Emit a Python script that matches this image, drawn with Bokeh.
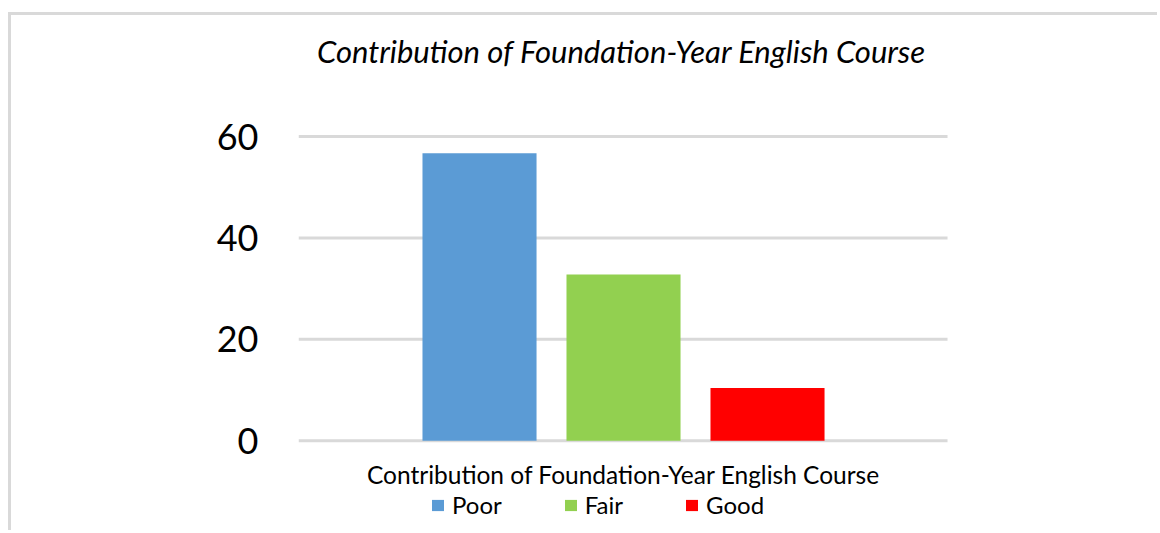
from bokeh.plotting import figure
from bokeh.models import ColumnDataSource, Range1d, FixedTicker, Legend, LegendItem, Label
from bokeh.embed import file_html
from bokeh.resources import INLINE

# data
categories = ["Poor", "Fair", "Good"]
percentages = [56.7, 32.8, 10.4]
colors = ["#5b9bd5", "#92d050", "#ff0000"]
positions = [1, 2, 3]
y_ticks = [0, 20, 40, 60]
chart_title = "Contribution of Foundation-Year English Course"
axis_title = "Contribution of Foundation-Year English Course"

FONT = "Lato"

src = ColumnDataSource(dict(x=positions, top=percentages, cat=categories, color=colors))

p = figure(width=1149, height=518, output_backend="svg", toolbar_location=None,
           x_axis_location=None,
           x_range=Range1d(-0.257, 5.729), y_range=Range1d(-18.28, 83.86),
           min_border_left=287, min_border_right=0, min_border_top=0, min_border_bottom=0)
p.styles = {"margin-left": "8px", "margin-top": "12px",
            "border-left": "3px solid #d9d9d9", "border-top": "3px solid #d9d9d9"}
p.title = None
p.outline_line_color = None
p.background_fill_color = "white"
p.border_fill_color = "white"
p.xgrid.visible = False
p.ygrid.visible = False

# gridlines across the plot area (x from -0.257 to 4.25)
grid_src = ColumnDataSource(dict(y=y_ticks, x0=[-0.257] * len(y_ticks), x1=[4.25] * len(y_ticks)))
p.segment(x0="x0", x1="x1", y0="y", y1="y", source=grid_src, line_color="#d9d9d9", line_width=3)

r = p.vbar(x="x", top="top", bottom=0, width=0.792, color="color", source=src, line_color=None)

ya = p.yaxis[0]
ya.ticker = FixedTicker(ticks=y_ticks)
ya.axis_line_color = None
ya.major_tick_line_color = None
ya.minor_tick_line_color = None
ya.major_tick_out = 0
ya.major_tick_in = 0
ya.major_label_standoff = 40
ya.major_label_text_font = FONT
ya.major_label_text_font_size = "36px"
ya.major_label_text_color = "black"

p.add_layout(Label(x=1.986, y=76.9, text=chart_title, text_align="center", text_baseline="alphabetic",
                   text_font=FONT, text_font_size="31px", text_font_style="italic", text_color="black"))
p.add_layout(Label(x=2, y=-6.7, text=axis_title, text_align="center", text_baseline="alphabetic",
                   text_font=FONT, text_font_size="24.5px", text_color="black"))

items = [LegendItem(label=c, renderers=[r], index=i) for i, c in enumerate(categories)]
leg = Legend(items=items, orientation="horizontal", location=(132, 14),
             glyph_width=15, glyph_height=14, label_standoff=7, spacing=61,
             padding=0, margin=0, border_line_color=None, background_fill_alpha=0,
             label_text_font=FONT, label_text_font_size="24px", label_text_color="black")
p.add_layout(leg, "center")

open("out.html", "w").write(file_html(p, INLINE))
